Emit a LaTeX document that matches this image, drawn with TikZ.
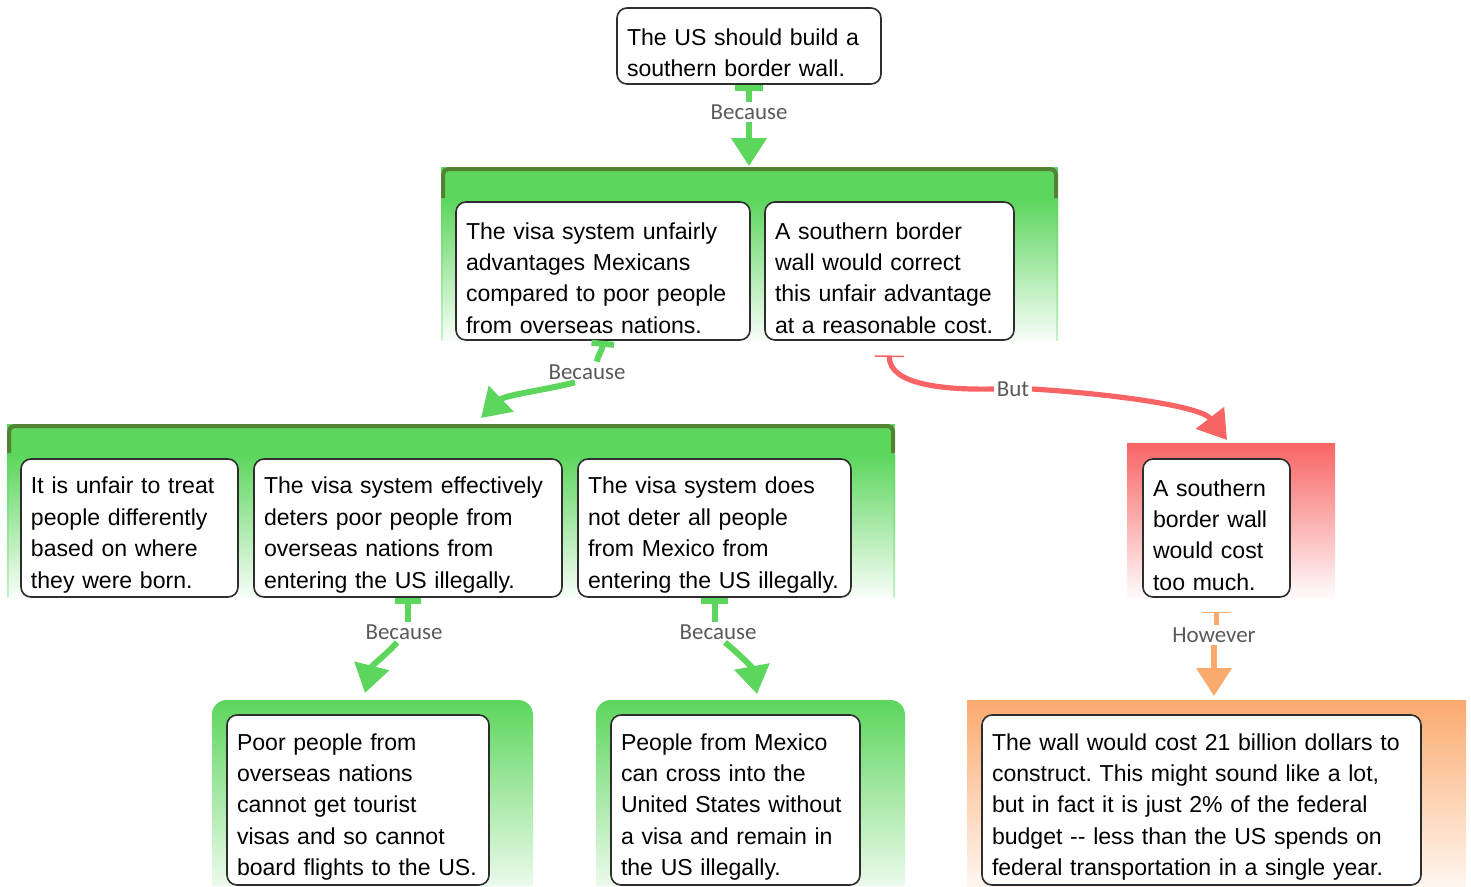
\documentclass[tikz,border=0pt]{standalone}
\usepackage{fontspec}
\setmainfont{Liberation Sans}
\newfontfamily\labfont{Carlito}
\usetikzlibrary{arrows.meta,calc}
\definecolor{grn}{RGB}{92,214,92}
\definecolor{dgrn}{RGB}{84,130,53}
\definecolor{redc}{RGB}{248,100,100}
\definecolor{orgc}{RGB}{251,170,110}
\definecolor{labc}{RGB}{89,89,89}
\definecolor{boxline}{RGB}{45,45,45}
\frenchspacing
\begin{document}
\begin{tikzpicture}[x=0.75pt,y=-0.75pt,
  argbox/.style={draw=boxline, line width=1.2pt, fill=white, rounded corners=7.5pt,
    align=left, inner xsep=7.5pt, inner ysep=2pt,
    font=\fontsize{17.3pt}{23.6pt}\selectfont, text=black,
    execute at begin node={\rule{0pt}{23pt}}},
  lab/.style={font=\labfont\fontsize{17.2pt}{20pt}\selectfont, text=labc, inner sep=2pt},
  gconn/.style={draw=grn, line width=4.5pt},
  rconn/.style={draw=redc, line width=3.9pt},
  oconn/.style={draw=orgc, line width=3.9pt},
  bigtip/.style={-{Triangle[width=26pt,length=21pt]}}
]
\useasboundingbox (0,0) rectangle (1471,886);

% ---- group 1 (green)
\fill[grn] (441,167) rectangle (1058,199);
\shade[top color=grn, bottom color=grn!4] (441,199) rectangle (1058,340);
\shade[top color=grn, bottom color=grn!35] (441,199) rectangle (442.5,340);
\shade[top color=grn, bottom color=grn!35] (1056.5,199) rectangle (1058,340);
\draw[dgrn, line width=3pt, rounded corners=4pt] (443,198) -- (443,169) -- (1056,169) -- (1056,198);

% ---- group 2 (green)
\fill[grn] (7,424) rectangle (895,455);
\shade[top color=grn, bottom color=grn!4] (7,455) rectangle (895,597);
\shade[top color=grn, bottom color=grn!35] (7,455) rectangle (8.5,597);
\shade[top color=grn, bottom color=grn!35] (893.5,455) rectangle (895,597);
\draw[dgrn, line width=3pt, rounded corners=4pt] (9,453) -- (9,426) -- (893,426) -- (893,453);

% ---- red group
\shade[top color=redc, bottom color=redc!3] (1127,443) rectangle (1335,597);

% ---- bottom green groups
\shade[top color=grn, bottom color=grn!12, rounded corners=11pt] (212,886) -- (212,700) -- (533,700) -- (533,886);
\shade[top color=grn, bottom color=grn!12, rounded corners=11pt] (596,886) -- (596,700) -- (905,700) -- (905,886);

% ---- orange group
\shade[top color=orgc, bottom color=orgc!10] (967,700) rectangle (1466,886);

% ---- claim boxes
\node[argbox, text width=183pt, minimum height=57pt] (top) at (749,46)
  {The US should build a\\southern border wall.};
\node[argbox, text width=205.5pt, minimum height=103.5pt] (A) at (603,271)
  {The visa system unfairly\\advantages Mexicans\\compared to poor people\\from overseas nations.};
\node[argbox, text width=171.75pt, minimum height=103.5pt] (B) at (889.5,271)
  {A southern border\\wall would correct\\this unfair advantage\\at a reasonable cost.};
\node[argbox, text width=147.75pt, minimum height=103.5pt] (C) at (129.5,528)
  {It is unfair to treat\\people differently\\based on where\\they were born.};
\node[argbox, text width=216pt, minimum height=103.5pt] (D) at (408,528)
  {The visa system effectively\\deters poor people from\\overseas nations from\\entering the US illegally.};
\node[argbox, text width=189.75pt, minimum height=103.5pt] (E) at (714.5,528)
  {The visa system does\\not deter all people\\from Mexico from\\entering the US illegally.};
\node[argbox, text width=95.25pt, minimum height=103.5pt] (F) at (1216.5,528)
  {A southern\\border wall\\would cost\\too much.};
\node[argbox, text width=181.5pt, minimum height=127.5pt] (G) at (358,800)
  {Poor people from\\overseas nations\\cannot get tourist\\visas and so cannot\\board flights to the US.};
\node[argbox, text width=171.75pt, minimum height=127.5pt] (H) at (735.5,800)
  {People from Mexico\\can cross into the\\United States without\\a visa and remain in\\the US illegally.};
\node[argbox, text width=314.25pt, minimum height=127.5pt] (I) at (1201.5,800)
  {The wall would cost 21 billion dollars to\\construct. This might sound like a lot,\\but in fact it is just 2\% of the federal\\budget -\kern0pt- less than the US spends on\\federal transportation in a single year.};

% ---- connector labels
\node[lab] (L1) at (749,112) {Because};
\node[lab] (L2) at (587,372) {Because};
\node[lab] (L3) at (1013,389) {But};
\node[lab] (L4) at (404,632) {Because};
\node[lab] (L5) at (718,632) {Because};
\node[lab] (L6) at (1214,635) {However};

% ---- connector targets on group tops
\coordinate (t1) at (749,166);
\coordinate (t2) at (481,418);
\coordinate (t3) at (1227,440);
\coordinate (t4) at (365,693);
\coordinate (t5) at (757,694);
\coordinate (t6) at (1214,696);

% ---- connectors
\draw[gconn, {Bar[width=21pt]}-] (top.south) -- (top.south |- L1.north);
\draw[gconn, bigtip] (L1.south) -- (t1);

\draw[gconn, {Bar[width=17pt]}-] (A.south) .. controls (602,352) and (598,354) .. ($(L2.north)+(10,0)$);
\draw[gconn, bigtip] ($(L2.south)+(-12,0)$) .. controls (545,390) and (505,395) .. (t2);

\draw[rconn, {Bar[width=22pt,line width=1.2pt,sep=4pt]}-, shorten <=7pt] (B.south) .. controls (889,385) and (945,390) .. (L3.west);
\draw[rconn, bigtip] (L3.east) .. controls (1100,393) and (1200,405) .. (t3);

\draw[gconn, {Bar[width=20pt]}-] (D.south) -- (D.south |- L4.north);
\draw[gconn, bigtip] ($(L4.south)+(-7,0)$) .. controls (386,655) and (372,665) .. (t4);

\draw[gconn, {Bar[width=20pt]}-] (E.south) -- (E.south |- L5.north);
\draw[gconn, bigtip] ($(L5.south)+(7,0)$) .. controls (740,655) and (752,667) .. (t5);

\draw[oconn, {Bar[width=22pt,line width=1.2pt,sep=4pt]}-, shorten <=6.5pt] (F.south) -- (F.south |- L6.north);
\draw[oconn, bigtip] (L6.south) -- (t6);
\end{tikzpicture}
\end{document}
